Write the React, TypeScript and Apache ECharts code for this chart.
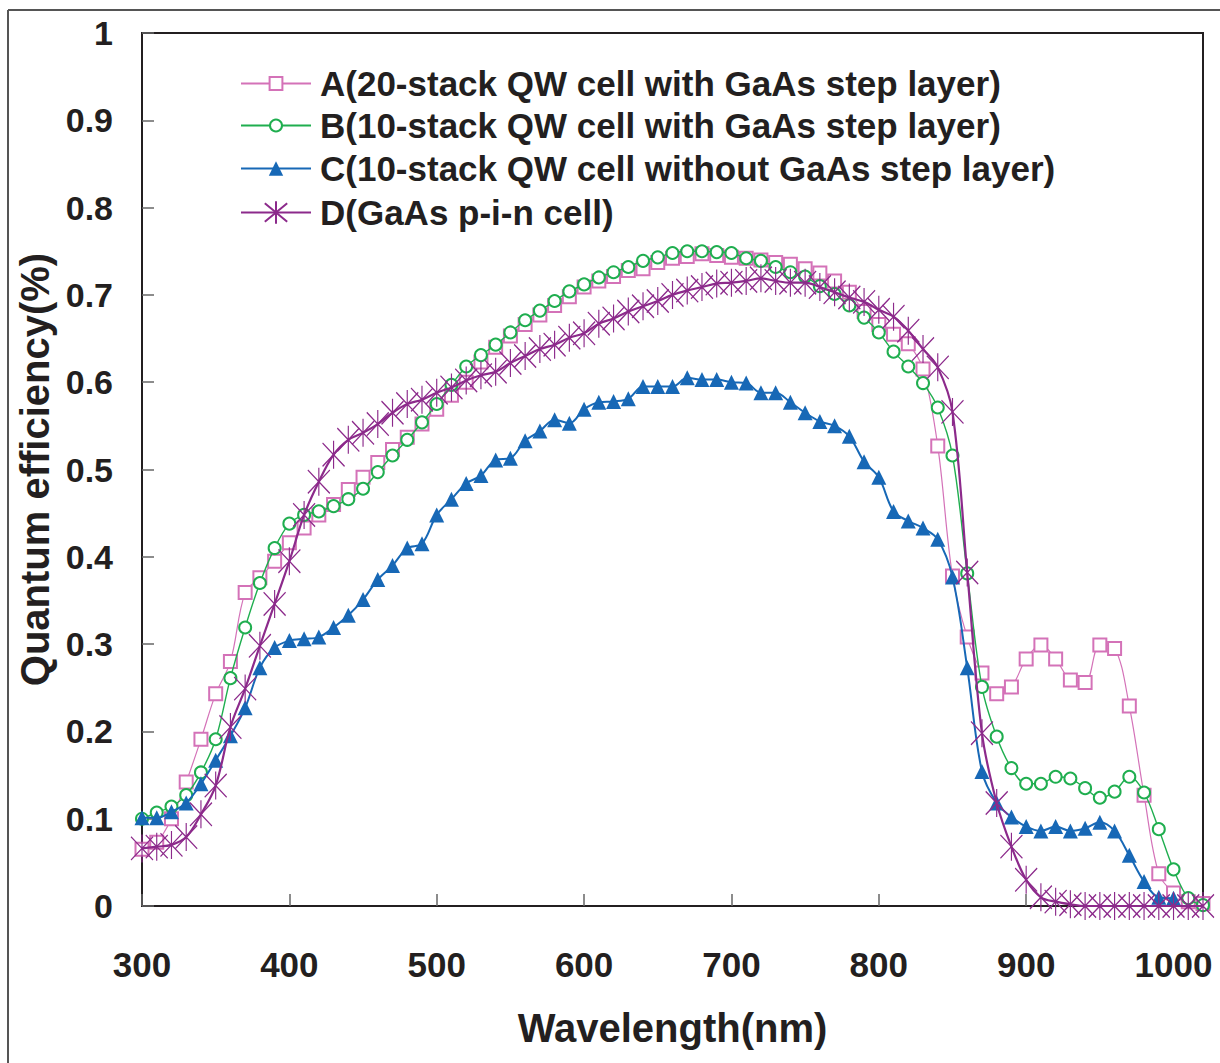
import React, { useEffect, useRef } from 'react';
import * as echarts from 'echarts';

const wavelengths = [
  300, 310, 320, 330, 340, 350, 360, 370, 380, 390,
  400, 410, 420, 430, 440, 450, 460, 470, 480, 490,
  500, 510, 520, 530, 540, 550, 560, 570, 580, 590,
  600, 610, 620, 630, 640, 650, 660, 670, 680, 690,
  700, 710, 720, 730, 740, 750, 760, 770, 780, 790,
  800, 810, 820, 830, 840, 850, 860, 870, 880, 890,
  900, 910, 920, 930, 940, 950, 960, 970, 980, 990,
  1000, 1010, 1020,
];

const seriesNames = [
  'A(20-stack QW cell with GaAs step layer)',
  'B(10-stack QW cell with GaAs step layer)',
  'C(10-stack QW cell without GaAs step layer)',
  'D(GaAs p-i-n cell)',
];

const qeA = [
  0.065, 0.073, 0.100, 0.142, 0.191, 0.243, 0.280, 0.359, 0.376, 0.395,
  0.416, 0.433, 0.448, 0.460, 0.477, 0.491, 0.508, 0.523, 0.537, 0.552,
  0.569, 0.585, 0.600, 0.623, 0.640, 0.653, 0.666, 0.677, 0.688, 0.698,
  0.709, 0.716, 0.721, 0.728, 0.730, 0.737, 0.742, 0.744, 0.747, 0.745,
  0.743, 0.742, 0.740, 0.737, 0.735, 0.730, 0.725, 0.716, 0.703, 0.681,
  0.666, 0.655, 0.644, 0.615, 0.527, 0.378, 0.308, 0.267, 0.243, 0.251,
  0.283, 0.299, 0.283, 0.259, 0.256, 0.299, 0.295, 0.229, 0.127, 0.037,
  0.015, 0.005, 0.003,
];

const qeB = [
  0.100, 0.107, 0.114, 0.127, 0.153, 0.191, 0.261, 0.319, 0.370, 0.410,
  0.438, 0.448, 0.452, 0.458, 0.466, 0.478, 0.497, 0.516, 0.534, 0.554,
  0.575, 0.597, 0.618, 0.631, 0.643, 0.657, 0.671, 0.682, 0.693, 0.704,
  0.712, 0.720, 0.726, 0.732, 0.739, 0.743, 0.748, 0.750, 0.750, 0.749,
  0.748, 0.742, 0.739, 0.732, 0.726, 0.721, 0.710, 0.701, 0.688, 0.674,
  0.657, 0.635, 0.618, 0.599, 0.571, 0.516, 0.381, 0.251, 0.194, 0.158,
  0.140, 0.140, 0.148, 0.146, 0.135, 0.124, 0.131, 0.148, 0.130, 0.088,
  0.042, 0.009, 0.001,
];

const qeC = [
  0.101, 0.101, 0.108, 0.118, 0.140, 0.167, 0.195, 0.227, 0.273, 0.296,
  0.304, 0.306, 0.308, 0.319, 0.333, 0.351, 0.374, 0.390, 0.410, 0.415,
  0.448, 0.466, 0.484, 0.493, 0.511, 0.513, 0.533, 0.544, 0.557, 0.553,
  0.569, 0.577, 0.578, 0.581, 0.595, 0.595, 0.595, 0.605, 0.603, 0.603,
  0.600, 0.599, 0.588, 0.588, 0.577, 0.565, 0.555, 0.550, 0.538, 0.509,
  0.491, 0.452, 0.441, 0.433, 0.420, 0.377, 0.273, 0.154, 0.118, 0.102,
  0.091, 0.086, 0.091, 0.086, 0.089, 0.096, 0.086, 0.058, 0.028, 0.010,
  0.009,
];

const qeD = [
  0.066, 0.068, 0.070, 0.079, 0.105, 0.138, 0.205, 0.249, 0.298, 0.346,
  0.395, 0.448, 0.486, 0.517, 0.534, 0.542, 0.552, 0.565, 0.575, 0.580,
  0.588, 0.594, 0.602, 0.608, 0.612, 0.622, 0.630, 0.638, 0.643, 0.651,
  0.656, 0.667, 0.673, 0.681, 0.687, 0.693, 0.700, 0.705, 0.709, 0.713,
  0.714, 0.716, 0.719, 0.716, 0.714, 0.714, 0.709, 0.703, 0.697, 0.692,
  0.683, 0.675, 0.659, 0.638, 0.617, 0.566, 0.382, 0.198, 0.118, 0.068,
  0.030, 0.010, 0.005, 0.002, 0.000, 0.000, 0.000, 0.000, 0.000, 0.000,
  0.000, 0.000, 0.000,
];

const xTickLabels = ['300', '400', '500', '600', '700', '800', '900', '1000'];
const yTickLabels = ['0', '0.1', '0.2', '0.3', '0.4', '0.5', '0.6', '0.7', '0.8', '0.9', '1'];

const FONT = '"Liberation Sans", Arial, Helvetica, sans-serif';
const TEXT = '#231f20';
const COLORS = ['#d472b8', '#1fae4f', '#1768b6', '#8c2a8b'];

const toPairs = (vals: number[]) => vals.map((v, i) => [wavelengths[i], v]);

export default function App() {
  const ref = useRef<HTMLDivElement>(null);

  useEffect(() => {
    document.body.style.margin = '0';
    if (!ref.current) return;
    const chart = echarts.init(ref.current, null, { renderer: 'svg' });

    const legendTops = [66, 108, 151, 195];
    const legendItemHeights = [16, 15, 18, 28];

    const option: any = {
      animation: false,
      backgroundColor: '#ffffff',
      grid: {
        left: 142,
        top: 33,
        right: 17,
        bottom: 157,
        show: true,
        borderColor: TEXT,
        borderWidth: 2,
        backgroundColor: 'transparent',
        containLabel: false,
        outerBoundsMode: 'none',
      },
      legend: seriesNames.map((n, i) => ({
        data: [n],
        orient: 'vertical',
        left: 240,
        top: legendTops[i],
        padding: 0,
        itemWidth: 70,
        itemHeight: legendItemHeights[i],
        selectedMode: false,
        textStyle: {
          fontFamily: FONT,
          fontSize: 35,
          fontWeight: 'bold',
          color: TEXT,
          padding: [0, 0, 0, 4],
        },
      })),
      xAxis: {
        type: 'value',
        min: 300,
        max: 1020,
        interval: 100,
        name: 'Wavelength(nm)',
        nameLocation: 'middle',
        nameGap: 102,
        nameTextStyle: { fontFamily: FONT, fontSize: 40, fontWeight: 'bold', color: TEXT },
        axisLine: { show: true, lineStyle: { color: TEXT, width: 2 } },
        axisTick: { show: true, inside: true, length: 12, lineStyle: { color: '#666', width: 1.5 } },
        axisLabel: {
          showMaxLabel: false,
          margin: 41,
          fontFamily: FONT,
          fontSize: 35,
          fontWeight: 'bold',
          color: TEXT,
          formatter: (v: number) => {
            const s = String(Math.round(v));
            return xTickLabels.includes(s) ? s : '';
          },
        },
        splitLine: { show: false },
      },
      yAxis: {
        type: 'value',
        min: 0,
        max: 1,
        interval: 0.1,
        name: 'Quantum efficiency(%)',
        nameLocation: 'middle',
        nameGap: 87,
        nameTextStyle: { fontFamily: FONT, fontSize: 40, fontWeight: 'bold', color: TEXT },
        axisLine: { show: true, lineStyle: { color: TEXT, width: 2 } },
        axisTick: { show: true, inside: true, length: 12, lineStyle: { color: '#666', width: 1.5 } },
        axisLabel: {
          margin: 29,
          fontFamily: FONT,
          fontSize: 34,
          fontWeight: 'bold',
          color: TEXT,
          formatter: (v: number) => yTickLabels[Math.round(v * 10)] ?? '',
        },
        splitLine: { show: false },
      },
      graphic: [
        { type: 'line', shape: { x1: 8, y1: 10, x2: 1220, y2: 10 }, style: { stroke: '#555', lineWidth: 2 } },
        { type: 'line', shape: { x1: 8, y1: 10, x2: 8, y2: 1063 }, style: { stroke: '#555', lineWidth: 2 } },
      ],
      series: [
        {
          name: seriesNames[0],
          type: 'line',
          data: toPairs(qeA),
          smooth: 0.35,
          clip: false,
          symbol: 'emptyRect',
          symbolSize: 13,
          lineStyle: { color: COLORS[0], width: 1.2 },
          itemStyle: { color: COLORS[0], borderColor: COLORS[0], borderWidth: 1.3 },
          z: 2,
        },
        {
          name: seriesNames[1],
          type: 'line',
          data: toPairs(qeB),
          smooth: 0.35,
          clip: false,
          symbol: 'emptyCircle',
          symbolSize: 12,
          lineStyle: { color: COLORS[1], width: 1.4 },
          itemStyle: { color: COLORS[1], borderColor: COLORS[1], borderWidth: 1.3 },
          z: 3,
        },
        {
          name: seriesNames[2],
          type: 'line',
          data: toPairs(qeC),
          smooth: 0.35,
          clip: false,
          symbol: 'triangle',
          symbolSize: 15,
          lineStyle: { color: COLORS[2], width: 2 },
          itemStyle: { color: COLORS[2] },
          z: 4,
        },
        {
          name: seriesNames[3],
          type: 'line',
          data: toPairs(qeD),
          smooth: 0.35,
          clip: false,
          symbol: 'path://M0,2L20,22M20,2L0,22M10,0L10,24',
          symbolSize: [22, 28],
          lineStyle: { color: COLORS[3], width: 2.2 },
          itemStyle: { color: COLORS[3], borderColor: COLORS[3], borderWidth: 1.3 },
          z: 5,
        },
      ],
    };

    chart.setOption(option);
    return () => chart.dispose();
  }, []);

  return <div ref={ref} style={{ width: 1220, height: 1063 }} />;
}
